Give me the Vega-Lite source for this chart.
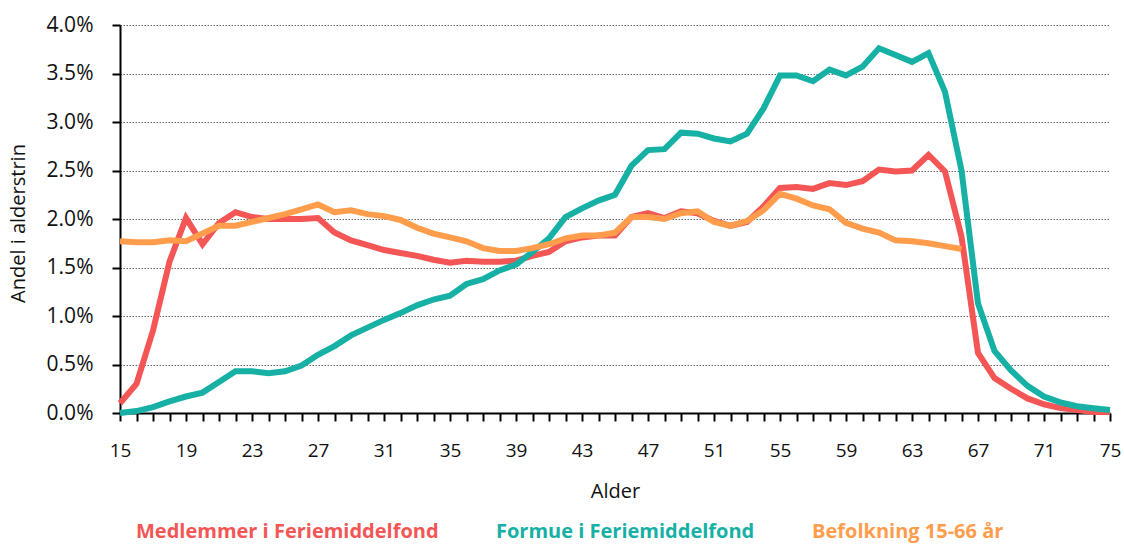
{
  "$schema": "https://vega.github.io/schema/vega-lite/v6.json",
  "width": 990,
  "height": 388,
  "autosize": "none",
  "padding": {"left": 120, "top": 25, "right": 14, "bottom": 131},
  "background": "white",
  "config": {
    "view": {"stroke": null},
    "font": "Open Sans"
  },
  "data": {
    "values": [
      {"Alder": 15, "Medlemmer i Feriemiddelfond": 0.10, "Formue i Feriemiddelfond": 0.00, "Befolkning 15-66 år": 1.77},
      {"Alder": 16, "Medlemmer i Feriemiddelfond": 0.30, "Formue i Feriemiddelfond": 0.02, "Befolkning 15-66 år": 1.76},
      {"Alder": 17, "Medlemmer i Feriemiddelfond": 0.85, "Formue i Feriemiddelfond": 0.06, "Befolkning 15-66 år": 1.76},
      {"Alder": 18, "Medlemmer i Feriemiddelfond": 1.56, "Formue i Feriemiddelfond": 0.12, "Befolkning 15-66 år": 1.78},
      {"Alder": 19, "Medlemmer i Feriemiddelfond": 2.01, "Formue i Feriemiddelfond": 0.17, "Befolkning 15-66 år": 1.77},
      {"Alder": 20, "Medlemmer i Feriemiddelfond": 1.74, "Formue i Feriemiddelfond": 0.21, "Befolkning 15-66 år": 1.85},
      {"Alder": 21, "Medlemmer i Feriemiddelfond": 1.96, "Formue i Feriemiddelfond": 0.32, "Befolkning 15-66 år": 1.93},
      {"Alder": 22, "Medlemmer i Feriemiddelfond": 2.07, "Formue i Feriemiddelfond": 0.43, "Befolkning 15-66 år": 1.93},
      {"Alder": 23, "Medlemmer i Feriemiddelfond": 2.02, "Formue i Feriemiddelfond": 0.43, "Befolkning 15-66 år": 1.97},
      {"Alder": 24, "Medlemmer i Feriemiddelfond": 2.00, "Formue i Feriemiddelfond": 0.41, "Befolkning 15-66 år": 2.01},
      {"Alder": 25, "Medlemmer i Feriemiddelfond": 2.00, "Formue i Feriemiddelfond": 0.43, "Befolkning 15-66 år": 2.05},
      {"Alder": 26, "Medlemmer i Feriemiddelfond": 2.00, "Formue i Feriemiddelfond": 0.49, "Befolkning 15-66 år": 2.10},
      {"Alder": 27, "Medlemmer i Feriemiddelfond": 2.01, "Formue i Feriemiddelfond": 0.60, "Befolkning 15-66 år": 2.15},
      {"Alder": 28, "Medlemmer i Feriemiddelfond": 1.86, "Formue i Feriemiddelfond": 0.69, "Befolkning 15-66 år": 2.07},
      {"Alder": 29, "Medlemmer i Feriemiddelfond": 1.78, "Formue i Feriemiddelfond": 0.80, "Befolkning 15-66 år": 2.09},
      {"Alder": 30, "Medlemmer i Feriemiddelfond": 1.73, "Formue i Feriemiddelfond": 0.88, "Befolkning 15-66 år": 2.05},
      {"Alder": 31, "Medlemmer i Feriemiddelfond": 1.68, "Formue i Feriemiddelfond": 0.96, "Befolkning 15-66 år": 2.03},
      {"Alder": 32, "Medlemmer i Feriemiddelfond": 1.65, "Formue i Feriemiddelfond": 1.03, "Befolkning 15-66 år": 1.99},
      {"Alder": 33, "Medlemmer i Feriemiddelfond": 1.62, "Formue i Feriemiddelfond": 1.11, "Befolkning 15-66 år": 1.91},
      {"Alder": 34, "Medlemmer i Feriemiddelfond": 1.58, "Formue i Feriemiddelfond": 1.17, "Befolkning 15-66 år": 1.85},
      {"Alder": 35, "Medlemmer i Feriemiddelfond": 1.55, "Formue i Feriemiddelfond": 1.21, "Befolkning 15-66 år": 1.81},
      {"Alder": 36, "Medlemmer i Feriemiddelfond": 1.57, "Formue i Feriemiddelfond": 1.33, "Befolkning 15-66 år": 1.77},
      {"Alder": 37, "Medlemmer i Feriemiddelfond": 1.56, "Formue i Feriemiddelfond": 1.38, "Befolkning 15-66 år": 1.70},
      {"Alder": 38, "Medlemmer i Feriemiddelfond": 1.56, "Formue i Feriemiddelfond": 1.47, "Befolkning 15-66 år": 1.67},
      {"Alder": 39, "Medlemmer i Feriemiddelfond": 1.57, "Formue i Feriemiddelfond": 1.53, "Befolkning 15-66 år": 1.67},
      {"Alder": 40, "Medlemmer i Feriemiddelfond": 1.62, "Formue i Feriemiddelfond": 1.66, "Befolkning 15-66 år": 1.70},
      {"Alder": 41, "Medlemmer i Feriemiddelfond": 1.66, "Formue i Feriemiddelfond": 1.80, "Befolkning 15-66 år": 1.74},
      {"Alder": 42, "Medlemmer i Feriemiddelfond": 1.77, "Formue i Feriemiddelfond": 2.02, "Befolkning 15-66 år": 1.80},
      {"Alder": 43, "Medlemmer i Feriemiddelfond": 1.81, "Formue i Feriemiddelfond": 2.11, "Befolkning 15-66 år": 1.83},
      {"Alder": 44, "Medlemmer i Feriemiddelfond": 1.83, "Formue i Feriemiddelfond": 2.19, "Befolkning 15-66 år": 1.83},
      {"Alder": 45, "Medlemmer i Feriemiddelfond": 1.83, "Formue i Feriemiddelfond": 2.25, "Befolkning 15-66 år": 1.86},
      {"Alder": 46, "Medlemmer i Feriemiddelfond": 2.02, "Formue i Feriemiddelfond": 2.55, "Befolkning 15-66 år": 2.02},
      {"Alder": 47, "Medlemmer i Feriemiddelfond": 2.06, "Formue i Feriemiddelfond": 2.71, "Befolkning 15-66 år": 2.02},
      {"Alder": 48, "Medlemmer i Feriemiddelfond": 2.01, "Formue i Feriemiddelfond": 2.72, "Befolkning 15-66 år": 2.00},
      {"Alder": 49, "Medlemmer i Feriemiddelfond": 2.08, "Formue i Feriemiddelfond": 2.89, "Befolkning 15-66 år": 2.06},
      {"Alder": 50, "Medlemmer i Feriemiddelfond": 2.06, "Formue i Feriemiddelfond": 2.88, "Befolkning 15-66 år": 2.08},
      {"Alder": 51, "Medlemmer i Feriemiddelfond": 1.98, "Formue i Feriemiddelfond": 2.83, "Befolkning 15-66 år": 1.97},
      {"Alder": 52, "Medlemmer i Feriemiddelfond": 1.93, "Formue i Feriemiddelfond": 2.80, "Befolkning 15-66 år": 1.93},
      {"Alder": 53, "Medlemmer i Feriemiddelfond": 1.97, "Formue i Feriemiddelfond": 2.88, "Befolkning 15-66 år": 1.98},
      {"Alder": 54, "Medlemmer i Feriemiddelfond": 2.13, "Formue i Feriemiddelfond": 3.14, "Befolkning 15-66 år": 2.09},
      {"Alder": 55, "Medlemmer i Feriemiddelfond": 2.32, "Formue i Feriemiddelfond": 3.48, "Befolkning 15-66 år": 2.26},
      {"Alder": 56, "Medlemmer i Feriemiddelfond": 2.33, "Formue i Feriemiddelfond": 3.48, "Befolkning 15-66 år": 2.21},
      {"Alder": 57, "Medlemmer i Feriemiddelfond": 2.31, "Formue i Feriemiddelfond": 3.42, "Befolkning 15-66 år": 2.14},
      {"Alder": 58, "Medlemmer i Feriemiddelfond": 2.37, "Formue i Feriemiddelfond": 3.54, "Befolkning 15-66 år": 2.10},
      {"Alder": 59, "Medlemmer i Feriemiddelfond": 2.35, "Formue i Feriemiddelfond": 3.48, "Befolkning 15-66 år": 1.96},
      {"Alder": 60, "Medlemmer i Feriemiddelfond": 2.39, "Formue i Feriemiddelfond": 3.57, "Befolkning 15-66 år": 1.90},
      {"Alder": 61, "Medlemmer i Feriemiddelfond": 2.51, "Formue i Feriemiddelfond": 3.76, "Befolkning 15-66 år": 1.86},
      {"Alder": 62, "Medlemmer i Feriemiddelfond": 2.49, "Formue i Feriemiddelfond": 3.69, "Befolkning 15-66 år": 1.78},
      {"Alder": 63, "Medlemmer i Feriemiddelfond": 2.50, "Formue i Feriemiddelfond": 3.62, "Befolkning 15-66 år": 1.77},
      {"Alder": 64, "Medlemmer i Feriemiddelfond": 2.66, "Formue i Feriemiddelfond": 3.71, "Befolkning 15-66 år": 1.75},
      {"Alder": 65, "Medlemmer i Feriemiddelfond": 2.49, "Formue i Feriemiddelfond": 3.31, "Befolkning 15-66 år": 1.72},
      {"Alder": 66, "Medlemmer i Feriemiddelfond": 1.82, "Formue i Feriemiddelfond": 2.50, "Befolkning 15-66 år": 1.69},
      {"Alder": 67, "Medlemmer i Feriemiddelfond": 0.62, "Formue i Feriemiddelfond": 1.13, "Befolkning 15-66 år": null},
      {"Alder": 68, "Medlemmer i Feriemiddelfond": 0.36, "Formue i Feriemiddelfond": 0.64, "Befolkning 15-66 år": null},
      {"Alder": 69, "Medlemmer i Feriemiddelfond": 0.25, "Formue i Feriemiddelfond": 0.44, "Befolkning 15-66 år": null},
      {"Alder": 70, "Medlemmer i Feriemiddelfond": 0.15, "Formue i Feriemiddelfond": 0.28, "Befolkning 15-66 år": null},
      {"Alder": 71, "Medlemmer i Feriemiddelfond": 0.09, "Formue i Feriemiddelfond": 0.17, "Befolkning 15-66 år": null},
      {"Alder": 72, "Medlemmer i Feriemiddelfond": 0.05, "Formue i Feriemiddelfond": 0.11, "Befolkning 15-66 år": null},
      {"Alder": 73, "Medlemmer i Feriemiddelfond": 0.03, "Formue i Feriemiddelfond": 0.07, "Befolkning 15-66 år": null},
      {"Alder": 74, "Medlemmer i Feriemiddelfond": 0.01, "Formue i Feriemiddelfond": 0.05, "Befolkning 15-66 år": null},
      {"Alder": 75, "Medlemmer i Feriemiddelfond": 0.01, "Formue i Feriemiddelfond": 0.03, "Befolkning 15-66 år": null}
    ]
  },
  "transform": [
    {"fold": ["Medlemmer i Feriemiddelfond", "Formue i Feriemiddelfond", "Befolkning 15-66 år"], "as": ["Serie", "Andel"]},
    {"filter": "datum.Andel != null"}
  ],
  "mark": {"type": "line", "strokeWidth": 6, "strokeJoin": "miter", "strokeCap": "butt"},
  "encoding": {
    "x": {
      "field": "Alder",
      "type": "quantitative",
      "scale": {"domain": [15, 75], "nice": false, "zero": false},
      "axis": {
        "title": "Alder",
        "values": [15,16,17,18,19,20,21,22,23,24,25,26,27,28,29,30,31,32,33,34,35,36,37,38,39,40,41,42,43,44,45,46,47,48,49,50,51,52,53,54,55,56,57,58,59,60,61,62,63,64,65,66,67,68,69,70,71,72,73,74,75],
        "labelExpr": "(datum.value - 15) % 4 == 0 ? datum.label : ''",
        "grid": false,
        "domainColor": "#000000",
        "domainWidth": 2,
        "tickColor": "#000000",
        "tickWidth": 2,
        "tickSize": 8,
        "labelPadding": 20,
        "labelFontSize": 19,
        "labelColor": "#111111",
        "labelFlush": false,
        "labelOverlap": false,
        "titleFontSize": 20,
        "titleFontWeight": "normal",
        "titleColor": "#111111",
        "titlePadding": 21
      }
    },
    "y": {
      "field": "Andel",
      "type": "quantitative",
      "scale": {"domain": [0, 4], "nice": false},
      "axis": {
        "title": "Andel i alderstrin",
        "values": [0, 0.5, 1, 1.5, 2, 2.5, 3, 3.5, 4],
        "labelExpr": "format(datum.value, '.1f') + '%'",
        "grid": true,
        "gridColor": "#666666",
        "gridDash": [1.5, 1.5],
        "gridWidth": 1,
        "domainColor": "#000000",
        "domainWidth": 2,
        "tickColor": "#000000",
        "tickWidth": 2,
        "tickSize": 8,
        "labelPadding": 19,
        "labelFontSize": 21,
        "labelColor": "#111111",
        "labelFlush": false,
        "titleFontSize": 20,
        "titleFontWeight": "normal",
        "titleColor": "#111111",
        "titleX": -92,
        "titleY": 198
      }
    },
    "color": {
      "field": "Serie",
      "type": "nominal",
      "scale": {
        "domain": ["Medlemmer i Feriemiddelfond", "Formue i Feriemiddelfond", "Befolkning 15-66 år"],
        "range": ["#F45656", "#16B0A5", "#FF9D4C"]
      },
      "legend": {
        "title": null,
        "orient": "none",
        "legendX": -4,
        "legendY": 497,
        "direction": "horizontal",
        "symbolSize": 0,
        "symbolOpacity": 0,
        "symbolStrokeWidth": 0,
        "labelOffset": 0,
        "columnPadding": 37,
        "labelFontSize": 20,
        "labelFontWeight": "bold",
        "labelLimit": 0,
        "encode": {
          "labels": {"update": {"fill": {"scale": "color", "field": "value"}}}
        }
      }
    },
    "order": {"field": "Serie", "sort": "ascending"}
  }
}
